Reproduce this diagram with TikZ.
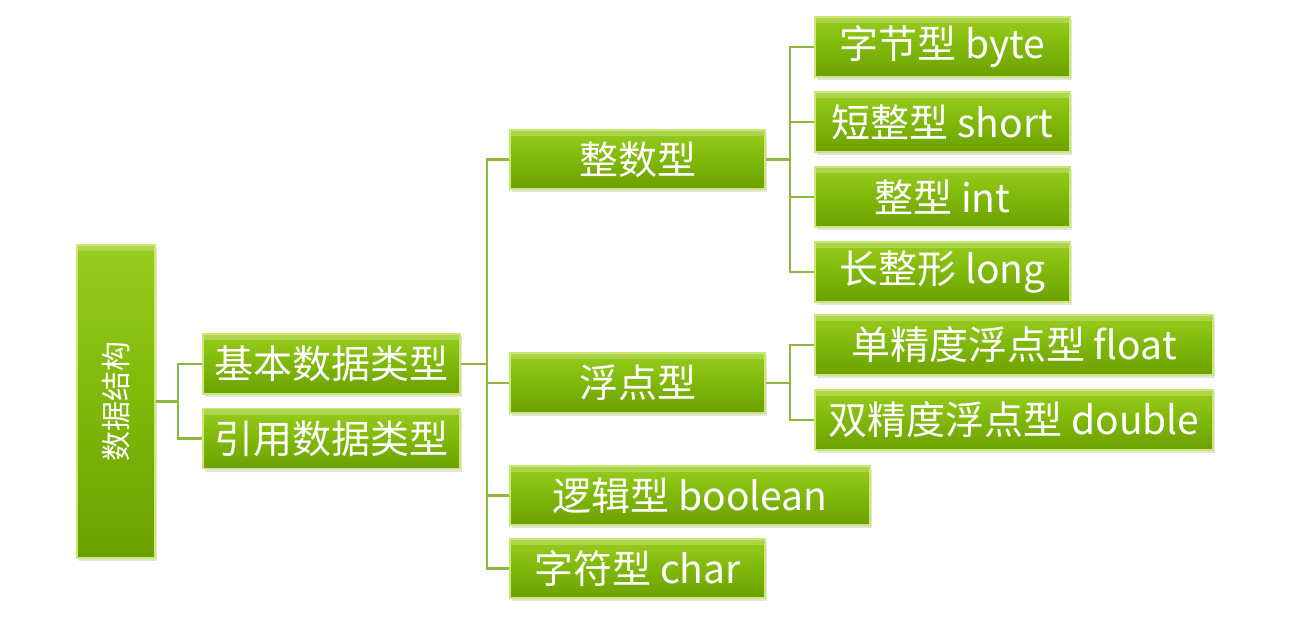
\documentclass[tikz,border=0pt]{standalone}
\usepackage{fontspec}
\setmainfont{Noto Sans CJK SC}
\usetikzlibrary{shadows}
\definecolor{gtop}{HTML}{98CC1E}
\definecolor{gmid}{HTML}{7FB80A}
\definecolor{gbot}{HTML}{6CA002}
\definecolor{gedge}{HTML}{CBE870}
\definecolor{lnk}{HTML}{8DB83C}
\tikzset{
  gbox/.style={rectangle, top color=gtop, bottom color=gbot, middle color=gmid,
    draw=gedge, line width=1.2pt, text=white, inner sep=0pt,
    font=\fontsize{39}{42}\selectfont,
    path picture={\fill[white,opacity=0.22] (path picture bounding box.north west) rectangle ([yshift=-6pt]path picture bounding box.north east);},
    drop shadow={opacity=0.22, shadow xshift=2pt, shadow yshift=-3pt}},
  lnkline/.style={draw=lnk, line width=2.6pt, line join=miter}
}
\begin{document}
\begin{tikzpicture}[x=1pt,y=-1pt]
\useasboundingbox (0,0) rectangle (1303,618);
% nodes
\node[gbox, minimum width=78pt, minimum height=313pt] (root) at (116,401.5) {};
\node[text=white, rotate=90, font=\fontsize{30}{32}\selectfont] (roott) at (root.center) {数据结构};
\node[gbox, minimum width=257pt, minimum height=60pt] (jb) at (331.5,364) {基本数据类型};
\node[gbox, minimum width=257pt, minimum height=60pt] (yy) at (331.5,438.5) {引用数据类型};
\node[gbox, minimum width=255pt, minimum height=59pt] (zs) at (637.5,159.5) {整数型};
\node[gbox, minimum width=255pt, minimum height=60pt] (fd) at (637.5,383) {浮点型};
\node[gbox, minimum width=360pt, minimum height=59pt] (lj) at (690,495.5) {逻辑型 boolean};
\node[gbox, minimum width=255pt, minimum height=59pt] (zf) at (637.5,568.5) {字符型 char};
\node[gbox, minimum width=255pt, minimum height=60pt] (by) at (942.5,47) {字节型 byte};
\node[gbox, minimum width=255pt, minimum height=60pt] (sh) at (942.5,122) {短整型 short};
\node[gbox, minimum width=255pt, minimum height=60pt] (in) at (942.5,197) {整型 int};
\node[gbox, minimum width=255pt, minimum height=60pt] (lo) at (942.5,272) {长整形 long};
\node[gbox, minimum width=398pt, minimum height=60pt] (fl) at (1014,345) {单精度浮点型 float};
\node[gbox, minimum width=398pt, minimum height=60pt] (db) at (1014,420) {双精度浮点型 double};
% connectors
\coordinate (c1) at (178,401.5);
\coordinate (c2) at (487,364);
\coordinate (c3) at (790,159.5);
\coordinate (c4) at (790,383);
\draw[lnkline] (root.east) -- (c1);
\draw[lnkline] (c1) |- (jb.west);
\draw[lnkline] (c1) |- (yy.west);
\draw[lnkline] (jb.east) -- (c2);
\draw[lnkline] (c2) |- (zs.west);
\draw[lnkline] (c2) |- (fd.west);
\draw[lnkline] (c2) |- (lj.west);
\draw[lnkline] (c2) |- (zf.west);
\draw[lnkline] (zs.east) -- (c3);
\draw[lnkline] (c3) |- (by.west);
\draw[lnkline] (c3) |- (sh.west);
\draw[lnkline] (c3) |- (in.west);
\draw[lnkline] (c3) |- (lo.west);
\draw[lnkline] (fd.east) -- (c4);
\draw[lnkline] (c4) |- (fl.west);
\draw[lnkline] (c4) |- (db.west);
\end{tikzpicture}
\end{document}
